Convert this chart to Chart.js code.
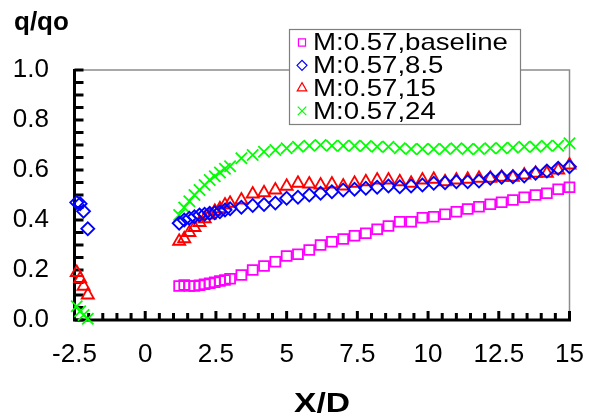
<!DOCTYPE html>
<html>
<head>
<meta charset="utf-8">
<script src="https://cdn.jsdelivr.net/npm/chart.js@4.4.1/dist/chart.umd.min.js"></script>
<style>
  html, body { margin: 0; padding: 0; background: #fff; }
  #wrap { width: 589px; height: 419px; }
</style>
</head>
<body>
<div id="wrap"><canvas id="c" width="589" height="419"></canvas></div>
<script>
// Axis ranges and tick labels
const xRange = [-2.5, 15];
const yRange = [0, 1];
const xTickValues = [-2.5, 0, 2.5, 5, 7.5, 10, 12.5, 15];
const xTickLabels = ['-2.5', '0', '2.5', '5', '7.5', '10', '12.5', '15'];
const yTickValues = [0, 0.2, 0.4, 0.6, 0.8, 1.0];
const yTickLabels = ['0.0', '0.2', '0.4', '0.6', '0.8', '1.0'];
const xMinorStep = 0.5;
const yMinorStep = 0.05;

// Series names
const seriesNames = ['M:0.57,baseline', 'M:0.57,8.5', 'M:0.57,15', 'M:0.57,24'];

// Upstream stations (X/D)
const upstreamX = [-2.42, -2.3, -2.18, -2.03];
// Downstream stations (X/D)
const downstreamX = [1.2, 1.38, 1.56, 1.74, 1.92, 2.1, 2.28, 2.46, 2.64, 2.82, 3.0,
  3.4, 3.8, 4.2, 4.6, 5.0, 5.4, 5.8, 6.2, 6.6, 7.0, 7.4, 7.8, 8.2, 8.6, 9.0,
  9.4, 9.8, 10.2, 10.6, 11.0, 11.4, 11.8, 12.2, 12.6, 13.0, 13.4, 13.8, 14.2, 14.6, 15.0];

// q/qo, baseline (downstream only)
const baselineQ = [0.136, 0.14, 0.136, 0.136, 0.139, 0.143, 0.147, 0.151, 0.156, 0.16, 0.165,
  0.18, 0.20, 0.216, 0.233, 0.256, 0.263, 0.28, 0.30, 0.313, 0.324, 0.337, 0.347, 0.363, 0.376, 0.393,
  0.393, 0.409, 0.413, 0.423, 0.433, 0.444, 0.453, 0.463, 0.471, 0.48, 0.491, 0.50, 0.507, 0.523, 0.531];

// q/qo, case 8.5
const case85Up = [0.47, 0.465, 0.435, 0.365];
const case85Q = [0.387, 0.40, 0.407, 0.413, 0.42, 0.423, 0.427, 0.429, 0.433, 0.44, 0.445,
  0.451, 0.458, 0.462, 0.468, 0.487, 0.491, 0.50, 0.507, 0.513, 0.52, 0.523, 0.527, 0.531, 0.536, 0.533,
  0.536, 0.54, 0.547, 0.549, 0.553, 0.553, 0.556, 0.567, 0.571, 0.573, 0.576, 0.587, 0.596, 0.607, 0.613];

// q/qo, case 15
const case15Up = [0.19, 0.165, 0.135, 0.10];
const case15Q = [0.315, 0.325, 0.35, 0.37, 0.39, 0.405, 0.42, 0.435, 0.445, 0.46, 0.467,
  0.48, 0.504, 0.509, 0.52, 0.535, 0.547, 0.544, 0.54, 0.544, 0.536, 0.547, 0.553, 0.56, 0.56, 0.553,
  0.547, 0.56, 0.563, 0.553, 0.56, 0.563, 0.567, 0.567, 0.571, 0.571, 0.58, 0.587, 0.587, 0.60, 0.62];

// q/qo, case 24
const case24Up = [0.055, 0.035, 0.02, 0.005];
const case24Q = [0.42, 0.45, 0.475, 0.50, 0.52, 0.54, 0.56, 0.575, 0.59, 0.605, 0.615,
  0.647, 0.66, 0.673, 0.68, 0.687, 0.693, 0.697, 0.70, 0.697, 0.697, 0.697, 0.696, 0.693, 0.693, 0.687,
  0.684, 0.684, 0.684, 0.684, 0.687, 0.684, 0.684, 0.687, 0.687, 0.689, 0.693, 0.693, 0.697, 0.697, 0.707];

function pts(xs, ys) { return xs.map((x, i) => ({ x: x, y: ys[i] })); }

const FONT = '"Liberation Sans", Arial, sans-serif';

const styles = [
  { color: '#FF00FF', pointStyle: 'rect', radius: 7, legendRadius: 5 },
  { color: '#0000FF', pointStyle: 'rectRot', radius: 6.5, legendRadius: 5 },
  { color: '#FF0000', pointStyle: 'triangle', radius: 7, legendRadius: 5.5 },
  { color: '#00FF00', pointStyle: 'crossRot', radius: 8, legendRadius: 6 }
];

const seriesData = [
  pts(downstreamX, baselineQ),
  pts(upstreamX, case85Up).concat(pts(downstreamX, case85Q)),
  pts(upstreamX, case15Up).concat(pts(downstreamX, case15Q)),
  pts(upstreamX, case24Up).concat(pts(downstreamX, case24Q))
];

const datasets = seriesData.map((d, i) => ({
  label: seriesNames[i],
  data: d,
  showLine: false,
  clip: false,
  pointStyle: styles[i].pointStyle,
  pointRadius: styles[i].radius,
  pointHoverRadius: styles[i].radius,
  pointBorderWidth: 1.8,
  borderColor: styles[i].color,
  backgroundColor: 'rgba(0,0,0,0)'
}));

// Text drawn with a slight horizontal widening
function wideText(ctx, text, x, y, sx) {
  ctx.save();
  ctx.translate(x, y);
  ctx.scale(sx, 1);
  ctx.fillText(text, 0, 0);
  ctx.restore();
}

// Plot frame, inward ticks, tick labels and axis titles
const axesPlugin = {
  id: 'axesPlugin',
  beforeDatasetsDraw(chart) {
    const { ctx, chartArea: a, scales } = chart;
    const xs = scales.x, ys = scales.y;
    ctx.save();
    // grey plot-area border (top and right)
    ctx.strokeStyle = '#8c8c8c';
    ctx.lineWidth = 1.5;
    ctx.beginPath();
    ctx.moveTo(a.left, a.top);
    ctx.lineTo(a.right, a.top);
    ctx.lineTo(a.right, a.bottom);
    ctx.stroke();

    // black axis lines
    ctx.strokeStyle = '#000';
    ctx.lineWidth = 3;
    ctx.beginPath();
    ctx.moveTo(a.left, a.top - 1);
    ctx.lineTo(a.left, a.bottom);
    ctx.lineTo(a.right + 1.5, a.bottom);
    ctx.stroke();

    // x ticks, pointing into the plot
    const nx = Math.round((xRange[1] - xRange[0]) / xMinorStep);
    for (let i = 0; i <= nx; i++) {
      const v = xRange[0] + i * xMinorStep;
      const px = xs.getPixelForValue(v);
      const len = (i % 5 === 0) ? 9 : 7;
      ctx.beginPath();
      ctx.moveTo(px, a.bottom);
      ctx.lineTo(px, a.bottom - len);
      ctx.stroke();
    }
    // y ticks
    const ny = Math.round((yRange[1] - yRange[0]) / yMinorStep);
    for (let i = 0; i <= ny; i++) {
      const v = yRange[0] + i * yMinorStep;
      const py = ys.getPixelForValue(v);
      ctx.beginPath();
      ctx.moveTo(a.left, py);
      ctx.lineTo(a.left + 9, py);
      ctx.stroke();
    }

    // tick labels
    ctx.fillStyle = '#000';
    ctx.font = '26px ' + FONT;
    ctx.textBaseline = 'middle';
    ctx.textAlign = 'right';
    yTickValues.forEach((v, i) => {
      ctx.fillText(yTickLabels[i], 49, ys.getPixelForValue(v));
    });
    ctx.textAlign = 'center';
    xTickValues.forEach((v, i) => {
      ctx.fillText(xTickLabels[i], xs.getPixelForValue(v), 355);
    });

    // axis titles
    ctx.font = 'bold 26px ' + FONT;
    ctx.textAlign = 'left';
    ctx.fillText('q/qo', 14, 23);
    ctx.font = 'bold 28px ' + FONT;
    ctx.textAlign = 'center';
    wideText(ctx, 'X/D', 322, 404, 1.2);
    ctx.restore();
  },
  afterDatasetsDraw(chart) {
    const { ctx } = chart;
    ctx.save();
    // legend box
    const bx = 289.5, by = 29.5, bw = 231, bh = 95;
    ctx.fillStyle = '#fff';
    ctx.fillRect(bx, by, bw, bh);
    ctx.strokeStyle = '#7f7f7f';
    ctx.lineWidth = 1.2;
    ctx.strokeRect(bx, by, bw, bh);
    ctx.font = '24px ' + FONT;
    ctx.textBaseline = 'middle';
    ctx.textAlign = 'left';
    chart.data.datasets.forEach((ds, i) => {
      const cy = 42.5 + i * 22.8;
      ctx.strokeStyle = styles[i].color;
      ctx.fillStyle = 'rgba(0,0,0,0)';
      Chart.helpers.drawPoint(ctx, {
        pointStyle: styles[i].pointStyle,
        radius: styles[i].legendRadius,
        rotation: 0,
        borderWidth: 1.6
      }, 302, cy);
      ctx.fillStyle = '#000';
      wideText(ctx, ds.label, 313, cy + 1, 1.15);
    });
    ctx.restore();
  }
};

new Chart(document.getElementById('c'), {
  type: 'scatter',
  data: { datasets: datasets },
  options: {
    responsive: false,
    animation: false,
    devicePixelRatio: 1,
    layout: { padding: { top: 70, right: 19.5, left: 0, bottom: 0 } },
    plugins: { legend: { display: false }, tooltip: { enabled: false } },
    scales: {
      x: {
        type: 'linear',
        min: xRange[0], max: xRange[1],
        grid: { display: false },
        border: { display: false },
        ticks: { display: false, stepSize: 2.5 },
        afterFit(s) { s.height = 99; }
      },
      y: {
        type: 'linear',
        min: yRange[0], max: yRange[1],
        grid: { display: false },
        border: { display: false },
        ticks: { display: false, stepSize: 0.2 },
        afterFit(s) { s.width = 74.5; }
      }
    }
  },
  plugins: [axesPlugin]
});
</script>
</body>
</html>
